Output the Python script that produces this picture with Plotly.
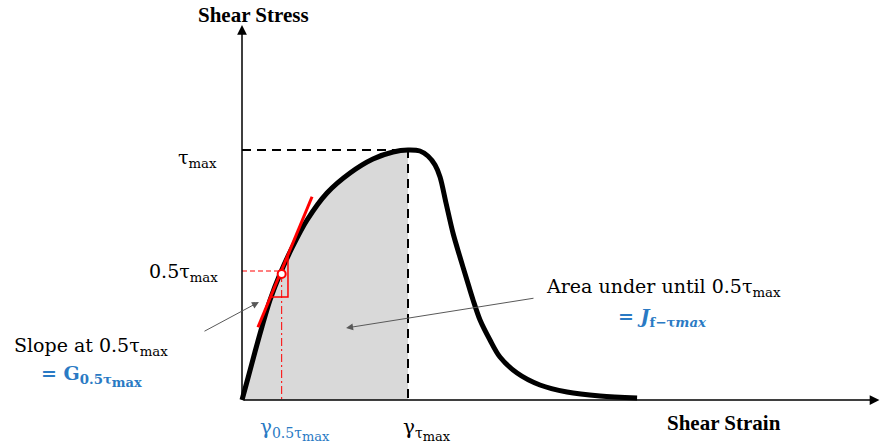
import plotly.graph_objects as go

# ---- data (strain normalised by gamma at tau_max, stress by tau_max) ----
strain = [0.0, 0.036, 0.078, 0.12, 0.169, 0.229, 0.301, 0.392, 0.512, 0.651, 0.789, 0.91, 1.0,
          1.072, 1.120, 1.163, 1.193, 1.229, 1.271, 1.313, 1.355, 1.392, 1.434, 1.494, 1.554,
          1.657, 1.795, 1.958, 2.157, 2.38]
stress = [0.0, 0.088, 0.192, 0.292, 0.40, 0.504, 0.608, 0.72, 0.828, 0.908, 0.964, 0.992, 1.0,
          0.996, 0.976, 0.94, 0.892, 0.788, 0.668, 0.572, 0.48, 0.40, 0.32, 0.24, 0.172,
          0.108, 0.06, 0.032, 0.016, 0.008]
tau_max = 1.0
gamma_tau_max = 1.0
gamma_half = 0.229
tau_at_half = 0.504
G_half = 1.6          # tangent slope at 0.5 tau_max

SERIF = "DejaVu Serif"
TIMES = "Liberation Serif"
BLUE = "#2a7ac4"
RED = "#ff0000"

fig = go.Figure()

# shaded area up to gamma_tau_max
sx = [x for x in strain if x <= gamma_tau_max]
sy = [stress[i] for i, x in enumerate(strain) if x <= gamma_tau_max]
fig.add_trace(go.Scatter(x=sx, y=sy, mode="lines", line=dict(width=0, shape="spline"),
                         fill="tozeroy", fillcolor="#d9d9d9", hoverinfo="skip"))

# dashed guide lines to peak
fig.add_trace(go.Scatter(x=[0, gamma_tau_max, gamma_tau_max], y=[tau_max, tau_max, 0],
                         mode="lines", line=dict(color="black", width=2, dash="9px,6px")))

# red dashed guides to 0.5 tau_max point
fig.add_trace(go.Scatter(x=[0, gamma_half], y=[tau_at_half + 0.012, tau_at_half + 0.012],
                         mode="lines", line=dict(color=RED, width=1, dash="5px,3px")))
fig.add_trace(go.Scatter(x=[gamma_half + 0.01, gamma_half + 0.01], y=[tau_at_half, 0],
                         mode="lines", line=dict(color=RED, width=1, dash="8px,3px,2px,3px")))

# main curve
fig.add_trace(go.Scatter(x=strain, y=stress, mode="lines",
                         line=dict(color="black", width=5, shape="spline", smoothing=0.9)))

# tangent line
t0, t1 = gamma_half - 0.133, gamma_half + 0.193
fig.add_trace(go.Scatter(x=[t0, t1],
                         y=[tau_at_half + G_half * (t0 - gamma_half), tau_at_half + G_half * (t1 - gamma_half)],
                         mode="lines", line=dict(color=RED, width=3)))

# slope triangle
yb = 0.412
xr = 0.277
fig.add_trace(go.Scatter(x=[gamma_half + (yb - tau_at_half) / G_half, xr, xr],
                         y=[yb, yb, tau_at_half + G_half * (xr - gamma_half)],
                         mode="lines", line=dict(color=RED, width=1.5)))

# point marker
fig.add_trace(go.Scatter(x=[gamma_half + 0.01], y=[tau_at_half], mode="markers",
                         marker=dict(size=8, color="white", line=dict(color=RED, width=2))))

ann = []
# axes arrows
ann.append(dict(x=0, y=1.5, ax=0, ay=0, xref="x", yref="y", axref="x", ayref="y",
                showarrow=True, arrowhead=2, arrowsize=1.3, arrowwidth=1.5, arrowcolor="black", text=""))
ann.append(dict(x=3.84, y=0, ax=0, ay=0, xref="x", yref="y", axref="x", ayref="y",
                showarrow=True, arrowhead=2, arrowsize=1.3, arrowwidth=1.5, arrowcolor="black", text=""))
# pointer arrows
ann.append(dict(x=0.102, y=0.392, ax=-0.235, ay=0.272, xref="x", yref="y", axref="x", ayref="y",
                showarrow=True, arrowhead=2, arrowsize=1.4, arrowwidth=1, arrowcolor="#595959", text=""))
ann.append(dict(x=0.627, y=0.288, ax=1.765, ay=0.408, xref="x", yref="y", axref="x", ayref="y",
                showarrow=True, arrowhead=2, arrowsize=1.4, arrowwidth=1, arrowcolor="#595959", text=""))


def lab(x, y, text, size=19, color="black", xanchor="center", family=SERIF):
    return dict(x=x, y=y, xref="x", yref="y", text=text, showarrow=False, xanchor=xanchor,
                yanchor="middle", font=dict(family=family, size=size, color=color))


def px(xp, yp):
    return (xp - 242) / 166, (400 - yp) / 250


MAX = '<sub><span style="font-size:13px">max</span></sub>'

ann.append(lab(*px(253, 15), "<b>Shear Stress</b>", size=21, family=TIMES))
ann.append(lab(*px(724, 423), "<b>Shear Strain</b>", size=21, family=TIMES))
ann.append(lab(*px(219, 158), "τ<sub>max</sub>", xanchor="right"))
ann.append(lab(*px(220, 272), "0.5τ<sub>max</sub>", xanchor="right"))
ann.append(lab(*px(295, 429), "γ<sub>0.5τ" + MAX + "</sub>", color=BLUE, size=20))
ann.append(lab(*px(427, 429), "γ<sub>τ" + MAX + "</sub>", size=20))
ann.append(lab(*px(91, 346), "Slope at 0.5τ<sub>max</sub>"))
ann.append(lab(*px(91, 376), "<b>= G<sub>0.5τ" + MAX + "</sub></b>", color=BLUE))
ann.append(lab(*px(663, 287), "Area under until 0.5τ<sub>max</sub>"))
ann.append(lab(*px(662, 317), "<b>= <i>J</i><sub>f−τ<i>max</i></sub></b>", color=BLUE))

fig.update_layout(
    width=880, height=444,
    margin=dict(l=0, r=0, t=0, b=0),
    paper_bgcolor="white", plot_bgcolor="white",
    showlegend=False,
    xaxis=dict(range=[-242 / 166, 638 / 166], visible=False, fixedrange=True),
    yaxis=dict(range=[-44 / 250, 400 / 250], visible=False, fixedrange=True),
    annotations=ann,
)

fig.write_html("out.html", config={"displayModeBar": False},
               post_script="document.body.style.margin='0';")
